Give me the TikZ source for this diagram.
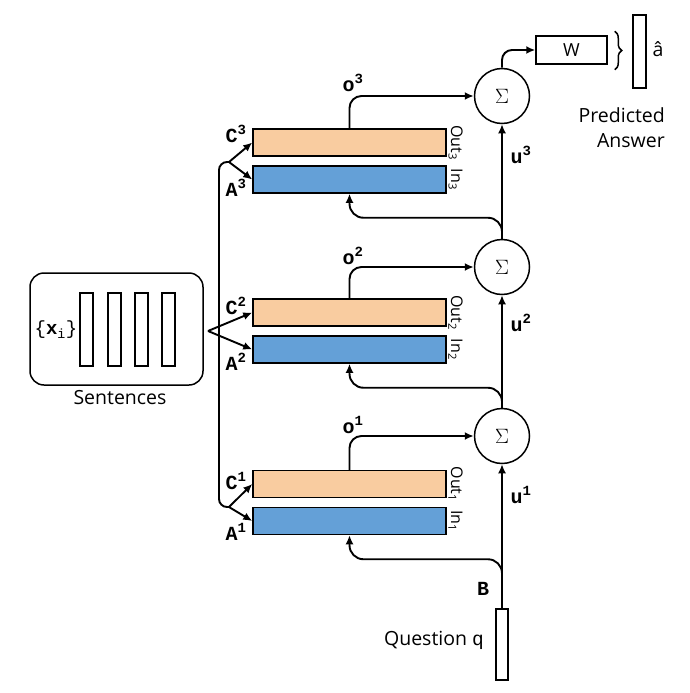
\documentclass[tikz,border=0pt]{standalone}
\usepackage{fontspec}
\setmainfont{Open Sans}
\setmonofont{Liberation Mono}
\usetikzlibrary{arrows.meta,decorations.pathreplacing,calc}
\definecolor{memorange}{RGB}{249,204,160}
\definecolor{memblue}{RGB}{100,160,215}
\begin{document}
\begin{tikzpicture}[x=1pt,y=-1pt,
  conn/.style={line width=1.9pt},
  arr/.style={conn,-{Latex[length=9pt,width=8pt]}},
  outline/.style={draw,line width=1.5pt,inner sep=0pt},
  membox/.style={outline,minimum width=193pt,minimum height=27pt},
  cbox/.style={membox,fill=memorange},
  abox/.style={membox,fill=memblue},
  sumnode/.style={outline,circle,minimum size=55pt,font=\fontsize{20}{22}\selectfont},
  vbar/.style={outline,minimum width=13pt,minimum height=73pt},
  ttlab/.style={font=\ttfamily\bfseries\fontsize{20}{22}\selectfont,inner sep=0pt},
  sflab/.style={font=\fontsize{19.5}{25}\selectfont,inner sep=0pt},
  sidelab/.style={rotate=-90,anchor=south,inner sep=1.5pt,font=\fontsize{16}{18}\selectfont},
]
\useasboundingbox (0,0) rectangle (689,693);

% sentences
\node[outline,rounded corners=14pt,minimum width=173pt,minimum height=112pt] (sent) at (116.5,329) {};
\node[vbar] (x1) at (86.5,329.5) {};
\node[vbar] (x2) at (114.5,329.5) {};
\node[vbar] (x3) at (141.5,329.5) {};
\node[vbar] (x4) at (168.5,329.5) {};
\node[font=\ttfamily\fontsize{19}{21}\selectfont,inner sep=0pt] (xi) at (56,330) {\{\textbf{x}\textsubscript{i}\}};
\node[sflab] (sentl) at (120,398) {Sentences};

% memory boxes
\node[cbox] (C3) at (349.5,142.5) {};
\node[abox] (A3) at (349.5,179.5) {};
\node[cbox] (C2) at (349.5,312.5) {};
\node[abox] (A2) at (349.5,349.5) {};
\node[cbox] (C1) at (349.5,484) {};
\node[abox] (A1) at (349.5,521) {};

\node[sidelab] (out3) at (C3.east) {Out\textsubscript{3}};
\node[sidelab] (in3) at (A3.east) {In\textsubscript{3}};
\node[sidelab] (out2) at (C2.east) {Out\textsubscript{2}};
\node[sidelab] (in2) at (A2.east) {In\textsubscript{2}};
\node[sidelab] (out1) at (C1.east) {Out\textsubscript{1}};
\node[sidelab] (in1) at (A1.east) {In\textsubscript{1}};

\node[ttlab] (lC3) at (236,134) {C\textsuperscript{3}};
\node[ttlab] (lA3) at (236,188) {A\textsuperscript{3}};
\node[ttlab] (lC2) at (236,306) {C\textsuperscript{2}};
\node[ttlab] (lA2) at (236,362) {A\textsuperscript{2}};
\node[ttlab] (lC1) at (236,481) {C\textsuperscript{1}};
\node[ttlab] (lA1) at (236,532) {A\textsuperscript{1}};

% sums
\node[sumnode] (S3) at (502,96) {$\Sigma$};
\node[sumnode] (S2) at (502,267) {$\Sigma$};
\node[sumnode] (S1) at (502,436) {$\Sigma$};

\node[ttlab] (o3) at (353,83) {o\textsuperscript{3}};
\node[ttlab] (o2) at (353,256) {o\textsuperscript{2}};
\node[ttlab] (o1) at (353,425) {o\textsuperscript{1}};
\node[ttlab] (u3) at (521,155) {u\textsuperscript{3}};
\node[ttlab] (u2) at (521,323) {u\textsuperscript{2}};
\node[ttlab] (u1) at (521,495) {u\textsuperscript{1}};

% question
\node[outline,minimum width=12pt,minimum height=71pt] (Q) at (502,644.5) {};
\node[ttlab] (B) at (483,589) {B};
\node[sflab] (ql) at (434,640) {Question {\ttfamily q}};

% answer
\node[outline,minimum width=71pt,minimum height=28pt,font=\fontsize{18}{20}\selectfont] (W) at (571.5,50) {W};
\node[vbar] (ans) at (639.5,51.5) {};
\node[sflab] (ahat) at (658,49) {â};
\node[sflab,align=right,anchor=east] (pred) at (665,128) {Predicted\\Answer};

% left distribution
\coordinate (f3) at (229,162);
\coordinate (f2) at (208,331);
\coordinate (f1) at (229,507);
\coordinate (v3) at (219,162);
\coordinate (v1) at (219,507);
\draw[conn,rounded corners=8pt] (f3) -- (v3) -- (v1) -- (f1);
\draw[arr] (f3) -- (C3.west);
\draw[arr] (f3) -- (A3.west);
\draw[arr] (f2) -- (C2.west);
\draw[arr] (f2) -- (A2.west);
\draw[arr] (f1) -- (C1.west);
\draw[arr] (f1) -- (A1.west);

% outputs
\draw[arr,rounded corners=12pt] (C3.north) |- (S3.west);
\draw[arr,rounded corners=12pt] (C2.north) |- (S2.west);
\draw[arr,rounded corners=12pt] (C1.north) |- (S1.west);

% u chain
\draw[arr] (Q.north) -- (S1.south);
\draw[arr] (S1.north) -- (S2.south);
\draw[arr] (S2.north) -- (S3.south);

% inputs
\draw[arr,rounded corners=14pt] ([yshift=27pt]Q.north) |- ([yshift=-24pt]A1.south) -- (A1.south);
\draw[arr,rounded corners=14pt] (S1.north) |- ([yshift=-24pt]A2.south) -- (A2.south);
\draw[arr,rounded corners=14pt] (S2.north) |- ([yshift=-24pt]A3.south) -- (A3.south);

% to W
\draw[arr,rounded corners=10pt] (S3.north) |- (W.west);
\draw[line width=1.5pt,decorate,decoration={brace,amplitude=7pt}]
  ([xshift=7pt,yshift=4pt]W.north east) -- ([xshift=7pt,yshift=-5pt]W.south east);
\end{tikzpicture}
\end{document}
